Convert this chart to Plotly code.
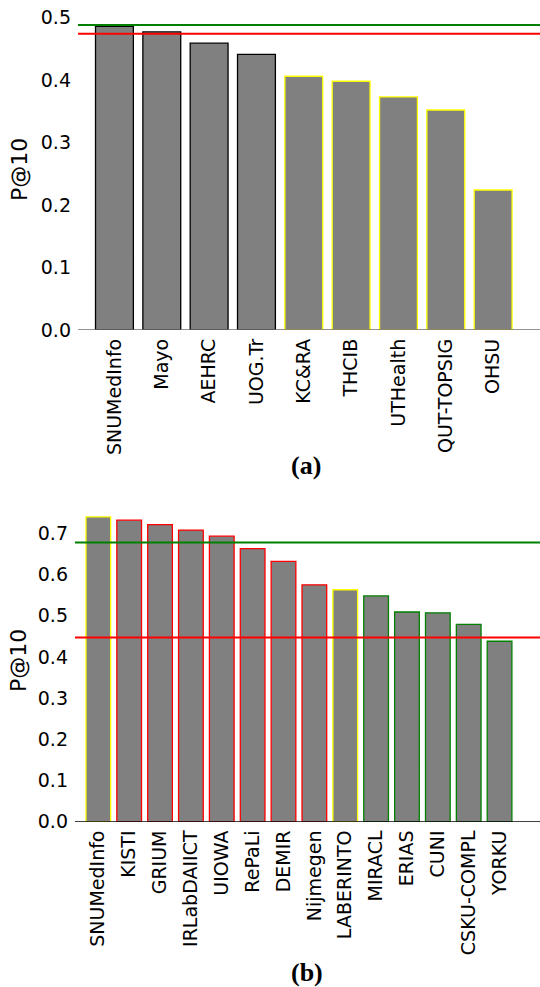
import plotly.graph_objects as go

# Panel (a): P@10 per team
teams_a = ["SNUMedInfo", "Mayo", "AEHRC", "UOG.Tr", "KC&RA", "THCIB",
           "UTHealth", "QUT-TOPSIG", "OHSU"]
p10_a = [0.486, 0.477, 0.459, 0.441, 0.406, 0.398, 0.373, 0.352, 0.224]
edges_a = ["black", "black", "black", "black", "yellow", "yellow",
           "yellow", "yellow", "yellow"]
ref_a = {"green": 0.488, "red": 0.474}

# Panel (b): P@10 per team
teams_b = ["SNUMedInfo", "KISTI", "GRIUM", "IRLabDAIICT", "UIOWA", "RePaLi",
           "DEMIR", "Nijmegen", "LABERINTO", "MIRACL", "ERIAS", "CUNI",
           "CSKU-COMPL", "YORKU"]
p10_b = [0.740, 0.732, 0.721, 0.708, 0.693, 0.663, 0.632, 0.575, 0.563,
         0.548, 0.509, 0.507, 0.479, 0.438]
edges_b = ["yellow", "red", "red", "red", "red", "red", "red", "red",
           "yellow", "green", "green", "green", "green", "green"]
ref_b = {"green": 0.678, "red": 0.447}

W, H = 540, 987
FONT = "DejaVu Sans"
GRAY = "#808080"
LINE_COLORS = {"green": "#008000", "red": "#ff0000"}

fig = go.Figure()
fig.add_trace(go.Bar(
    x=list(range(len(teams_a))), y=p10_a, xaxis="x", yaxis="y",
    marker=dict(color=GRAY, line=dict(color=edges_a, width=1.3)),
    width=0.8, showlegend=False,
))
fig.add_trace(go.Bar(
    x=list(range(len(teams_b))), y=p10_b, xaxis="x2", yaxis="y2",
    marker=dict(color=GRAY, line=dict(color=edges_b, width=1.3)),
    width=0.8, showlegend=False,
))


def px_x(p):
    return p / W


def px_y(p):
    return 1 - p / H


tick_font = dict(family=FONT, size=19, color="black")

common_x = dict(tickangle=-90, ticks="", showgrid=False, zeroline=False,
                showline=False, tickfont=tick_font, ticklabelstandoff=4,
                automargin=False)
common_y = dict(ticks="", showgrid=False, zeroline=False, showline=False,
                tickfont=tick_font, ticklabelstandoff=6, dtick=0.1,
                tickformat=".1f", automargin=False)

fig.update_layout(
    width=W, height=H,
    margin=dict(l=0, r=0, t=0, b=0, pad=0),
    paper_bgcolor="white", plot_bgcolor="white",
    xaxis=dict(domain=[px_x(78), 1], range=[-0.77, 8.99],
               tickvals=list(range(len(teams_a))), ticktext=teams_a,
               anchor="y", **common_x),
    yaxis=dict(domain=[px_y(330), px_y(11.25)], range=[0, 0.51],
               anchor="x", **common_y),
    xaxis2=dict(domain=[px_x(75), 1], range=[-0.755, 14.31],
                tickvals=list(range(len(teams_b))), ticktext=teams_b,
                anchor="y2", **common_x),
    yaxis2=dict(domain=[px_y(821.7), px_y(501.6)], range=[0, 0.777],
                anchor="x2", **common_y),
)

shapes = []
# bottom axis lines
shapes.append(dict(type="line", xref="x domain", yref="y", x0=0, x1=1,
                   y0=0, y1=0, line=dict(color="#6e6e6e", width=1.3)))
shapes.append(dict(type="line", xref="x2 domain", yref="y2", x0=0, x1=1,
                   y0=0, y1=0, line=dict(color="black", width=1.3)))
# reference lines
for name, val in ref_a.items():
    shapes.append(dict(type="line", xref="x domain", yref="y", x0=0, x1=1,
                       y0=val, y1=val,
                       line=dict(color=LINE_COLORS[name], width=2)))
for name, val in ref_b.items():
    shapes.append(dict(type="line", xref="x2 domain", yref="y2", x0=0, x1=1,
                       y0=val, y1=val,
                       line=dict(color=LINE_COLORS[name], width=2)))
fig.update_layout(shapes=shapes)

annotations = [
    dict(text="P@10", x=px_x(20), y=px_y(170), xref="paper", yref="paper",
         textangle=-90, showarrow=False, xanchor="center", yanchor="middle",
         font=dict(family=FONT, size=22, color="black")),
    dict(text="P@10", x=px_x(18), y=px_y(661), xref="paper", yref="paper",
         textangle=-90, showarrow=False, xanchor="center", yanchor="middle",
         font=dict(family=FONT, size=22, color="black")),
    dict(text="<b>(a)</b>", x=px_x(306), y=px_y(465), xref="paper",
         yref="paper", showarrow=False, xanchor="center", yanchor="middle",
         font=dict(family="Liberation Serif", size=26, color="black")),
    dict(text="<b>(b)</b>", x=px_x(307), y=px_y(972), xref="paper",
         yref="paper", showarrow=False, xanchor="center", yanchor="middle",
         font=dict(family="Liberation Serif", size=26, color="black")),
]
fig.update_layout(annotations=annotations)

fig.write_html("out.html")
